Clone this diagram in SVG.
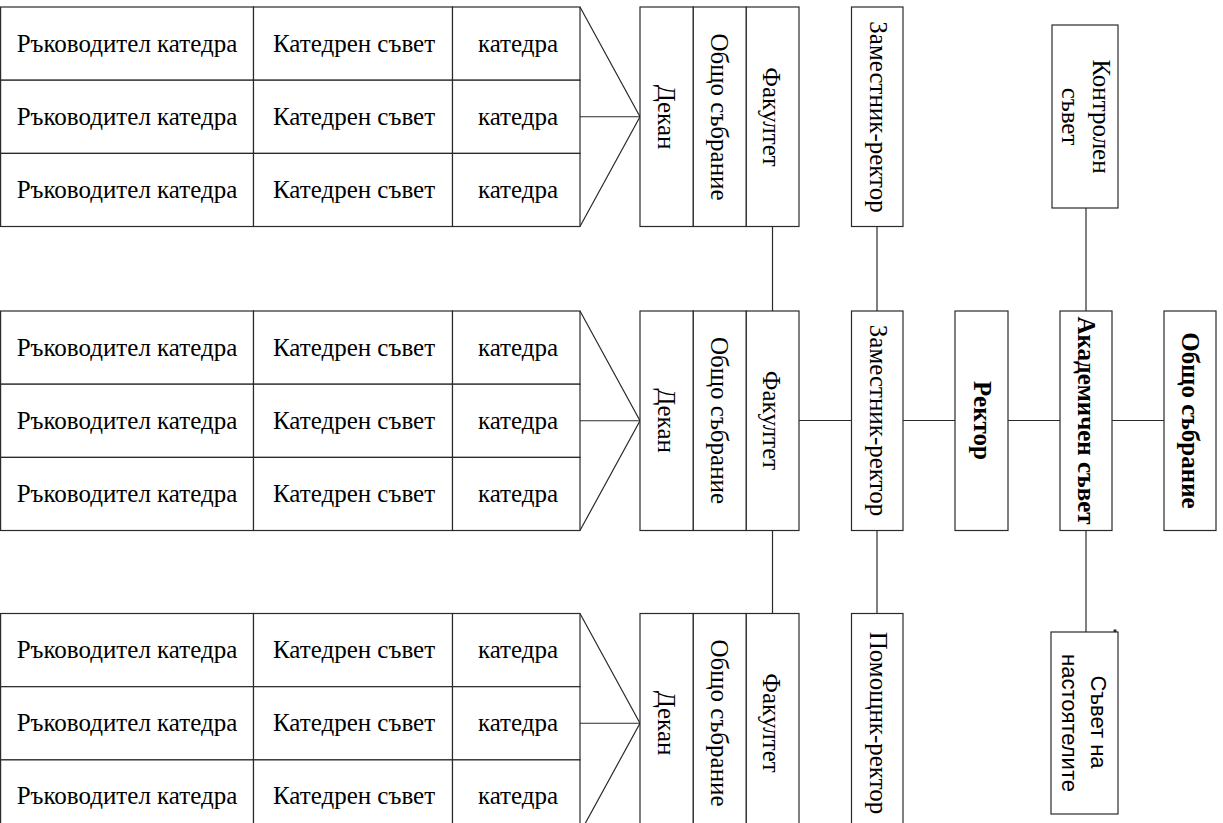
<svg xmlns="http://www.w3.org/2000/svg" width="1223" height="823" viewBox="0 0 1223 823">
<style>
.box{fill:#fff;stroke:#2a2a2a;stroke-width:1.2}
.ln{fill:none;stroke:#2a2a2a;stroke-width:1.2}
.t{font-family:"Liberation Serif","Times New Roman",serif;font-size:25px;fill:#000;text-anchor:middle}
.b{font-weight:bold}
.s{font-family:"Liberation Sans",Arial,sans-serif;font-size:22px}
</style>
<rect width="1223" height="823" fill="#fff"/>
<g id="connectors">
<polyline class="ln" points="580,7 640,116.75 580,226.5"/>
<line class="ln" x1="580" y1="116.75" x2="640" y2="116.75"/>
<polyline class="ln" points="580,311 640,420.75 580,530.5"/>
<line class="ln" x1="580" y1="420.75" x2="640" y2="420.75"/>
<polyline class="ln" points="580,613.5 640,723.25 580,833"/>
<line class="ln" x1="580" y1="723.25" x2="640" y2="723.25"/>
<line class="ln" x1="772.5" y1="226.5" x2="772.5" y2="311"/>
<line class="ln" x1="772.5" y1="530.5" x2="772.5" y2="613.5"/>
<line class="ln" x1="877" y1="226.5" x2="877" y2="311"/>
<line class="ln" x1="877" y1="530.5" x2="877" y2="613.5"/>
<line class="ln" x1="799" y1="420.5" x2="851.5" y2="420.5"/>
<line class="ln" x1="903" y1="420.5" x2="955" y2="420.5"/>
<line class="ln" x1="1008" y1="420.5" x2="1060" y2="420.5"/>
<line class="ln" x1="1112" y1="420.5" x2="1164" y2="420.5"/>
<line class="ln" x1="1086" y1="208" x2="1086" y2="311"/>
<line class="ln" x1="1086" y1="530.5" x2="1086" y2="632"/>
<rect x="1113.5" y="629.5" width="3" height="2.5" fill="#2a2a2a"/>
</g>
<g id="dept-table-1">
<rect class="box" x="0.6" y="7" width="252.9" height="73.2"/><rect class="box" x="253.5" y="7" width="199" height="73.2"/><rect class="box" x="452.5" y="7" width="127.5" height="73.2"/>
<rect class="box" x="0.6" y="80.2" width="252.9" height="73.2"/><rect class="box" x="253.5" y="80.2" width="199" height="73.2"/><rect class="box" x="452.5" y="80.2" width="127.5" height="73.2"/>
<rect class="box" x="0.6" y="153.4" width="252.9" height="73.1"/><rect class="box" x="253.5" y="153.4" width="199" height="73.1"/><rect class="box" x="452.5" y="153.4" width="127.5" height="73.1"/>
<text class="t" x="127" y="51.5">Ръководител катедра</text><text class="t" x="354" y="51.5">Катедрен съвет</text><text class="t" x="518" y="51.5">катедра</text>
<text class="t" x="127" y="124.5">Ръководител катедра</text><text class="t" x="354" y="124.5">Катедрен съвет</text><text class="t" x="518" y="124.5">катедра</text>
<text class="t" x="127" y="197.5">Ръководител катедра</text><text class="t" x="354" y="197.5">Катедрен съвет</text><text class="t" x="518" y="197.5">катедра</text>
</g>
<g id="dept-table-2">
<rect class="box" x="0.6" y="311" width="252.9" height="73.2"/><rect class="box" x="253.5" y="311" width="199" height="73.2"/><rect class="box" x="452.5" y="311" width="127.5" height="73.2"/>
<rect class="box" x="0.6" y="384.2" width="252.9" height="73.2"/><rect class="box" x="253.5" y="384.2" width="199" height="73.2"/><rect class="box" x="452.5" y="384.2" width="127.5" height="73.2"/>
<rect class="box" x="0.6" y="457.4" width="252.9" height="73.1"/><rect class="box" x="253.5" y="457.4" width="199" height="73.1"/><rect class="box" x="452.5" y="457.4" width="127.5" height="73.1"/>
<text class="t" x="127" y="355.5">Ръководител катедра</text><text class="t" x="354" y="355.5">Катедрен съвет</text><text class="t" x="518" y="355.5">катедра</text>
<text class="t" x="127" y="428.5">Ръководител катедра</text><text class="t" x="354" y="428.5">Катедрен съвет</text><text class="t" x="518" y="428.5">катедра</text>
<text class="t" x="127" y="501.5">Ръководител катедра</text><text class="t" x="354" y="501.5">Катедрен съвет</text><text class="t" x="518" y="501.5">катедра</text>
</g>
<g id="dept-table-3">
<rect class="box" x="0.6" y="613.5" width="252.9" height="73.2"/><rect class="box" x="253.5" y="613.5" width="199" height="73.2"/><rect class="box" x="452.5" y="613.5" width="127.5" height="73.2"/>
<rect class="box" x="0.6" y="686.7" width="252.9" height="73.2"/><rect class="box" x="253.5" y="686.7" width="199" height="73.2"/><rect class="box" x="452.5" y="686.7" width="127.5" height="73.2"/>
<rect class="box" x="0.6" y="759.9" width="252.9" height="73.1"/><rect class="box" x="253.5" y="759.9" width="199" height="73.1"/><rect class="box" x="452.5" y="759.9" width="127.5" height="73.1"/>
<text class="t" x="127" y="658">Ръководител катедра</text><text class="t" x="354" y="658">Катедрен съвет</text><text class="t" x="518" y="658">катедра</text>
<text class="t" x="127" y="731">Ръководител катедра</text><text class="t" x="354" y="731">Катедрен съвет</text><text class="t" x="518" y="731">катедра</text>
<text class="t" x="127" y="804">Ръководител катедра</text><text class="t" x="354" y="804">Катедрен съвет</text><text class="t" x="518" y="804">катедра</text>
</g>
<g id="faculty-1">
<rect class="box" x="640" y="7" width="53.3" height="219.5"/><rect class="box" x="693.3" y="7" width="53" height="219.5"/><rect class="box" x="746.3" y="7" width="52.7" height="219.5"/>
<text class="t" transform="translate(657.5,117) rotate(90)">Декан</text>
<text class="t" transform="translate(711,117) rotate(90)">Общо събрание</text>
<text class="t" transform="translate(763,117) rotate(90)">Факултет</text>
</g>
<g id="faculty-2">
<rect class="box" x="640" y="311" width="53.3" height="219.5"/><rect class="box" x="693.3" y="311" width="53" height="219.5"/><rect class="box" x="746.3" y="311" width="52.7" height="219.5"/>
<text class="t" transform="translate(657.5,420.5) rotate(90)">Декан</text>
<text class="t" transform="translate(711,420.5) rotate(90)">Общо събрание</text>
<text class="t" transform="translate(763,420.5) rotate(90)">Факултет</text>
</g>
<g id="faculty-3">
<rect class="box" x="640" y="613.5" width="53.3" height="219.5"/><rect class="box" x="693.3" y="613.5" width="53" height="219.5"/><rect class="box" x="746.3" y="613.5" width="52.7" height="219.5"/>
<text class="t" transform="translate(657.5,723) rotate(90)">Декан</text>
<text class="t" transform="translate(711,723) rotate(90)">Общо събрание</text>
<text class="t" transform="translate(763,723) rotate(90)">Факултет</text>
</g>
<g id="deputy-rector-1">
<rect class="box" x="851.5" y="7" width="51.5" height="219.5"/>
<text class="t" transform="translate(869.5,117) rotate(90)">Заместник-ректор</text>
</g>
<g id="deputy-rector-2">
<rect class="box" x="851.5" y="311" width="51.5" height="219.5"/>
<text class="t" transform="translate(869.5,420.5) rotate(90)">Заместник-ректор</text>
</g>
<g id="assistant-rector">
<rect class="box" x="851.5" y="613.5" width="51.5" height="219.5"/>
<text class="t" transform="translate(869.5,723) rotate(90)">Помощнк-ректор</text>
</g>
<g id="rector">
<rect class="box" x="955" y="311" width="53" height="219.5"/>
<text class="t b" transform="translate(973.5,420.5) rotate(90)">Ректор</text>
</g>
<g id="academic-council">
<rect class="box" x="1060" y="311" width="52" height="219.5"/>
<text class="t b" transform="translate(1077.5,420.5) rotate(90)">Академичен съвет</text>
</g>
<g id="general-assembly">
<rect class="box" x="1164" y="311" width="52" height="219.5"/>
<text class="t b" transform="translate(1181.5,420.5) rotate(90)">Общо събрание</text>
</g>
<g id="control-council">
<rect class="box" x="1052" y="25" width="66" height="183"/>
<text class="t" transform="translate(1092.5,116.5) rotate(90)">Контролен</text>
<text class="t" transform="translate(1062,116.5) rotate(90)">съвет</text>
</g>
<g id="board-of-trustees">
<rect class="box" x="1051" y="632" width="67" height="182"/>
<text class="t s" transform="translate(1091,722) rotate(90)">Съвет  на</text>
<text class="t s" transform="translate(1062,723) rotate(90)">настоятелите</text>
</g>
</svg>
